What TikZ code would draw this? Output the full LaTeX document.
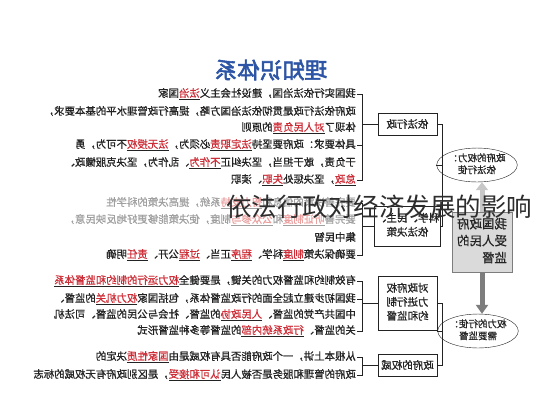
\documentclass[tikz,border=0pt]{standalone}
\usepackage{fontspec}
\setmainfont{Noto Sans CJK SC}
\newfontfamily\titlecjk[FakeBold=2.5]{Noto Sans CJK SC}
\newfontfamily\linecjk[FakeBold=0.8]{Noto Sans CJK SC}
\usepackage{graphicx}
\usetikzlibrary{calc}
\usetikzlibrary{positioning}
\usetikzlibrary{shapes.geometric}
\usetikzlibrary{arrows.meta}
\definecolor{titleblue}{RGB}{45,85,165}
\definecolor{hlred}{RGB}{205,45,55}
\definecolor{hlpale}{RGB}{235,160,160}
\definecolor{ink}{RGB}{35,35,35}
\definecolor{fade}{RGB}{160,160,160}
\definecolor{boxgray}{RGB}{218,218,218}
\definecolor{arrowlight}{RGB}{200,200,200}
\definecolor{arrowdark}{RGB}{125,125,125}
\definecolor{overlay}{RGB}{45,45,45}
\newcommand{\rl}[1]{\reflectbox{#1}}
\newcommand{\rlstack}[2][c]{\reflectbox{\begin{tabular}{@{}#1@{}}#2\end{tabular}}}
\newcommand{\hl}[1]{\underline{\textcolor{hlred}{#1}}}
\newcommand{\hp}[1]{\underline{\textcolor{hlpale}{#1}}}
\tikzset{
  txtline/.style={anchor=east, inner sep=0pt, text=ink, font=\linecjk\fontsize{10.4}{12}\selectfont},
  fadeline/.style={txtline, text=fade},
  topic/.style={draw=ink, minimum width=59pt, inner sep=1.5pt, text=ink, font=\linecjk\fontsize{10.5}{14}\selectfont},
  oval/.style={ellipse, draw=ink, minimum width=64pt, minimum height=32pt, inner sep=0pt, text=ink, font=\linecjk\fontsize{9.5}{12}\selectfont},
  brk/.style={draw=ink, line width=0.5pt},
}

\begin{document}
\begin{tikzpicture}[x=1pt,y=-1pt]

	%%% Frame
	\fill[white] (0,0) rectangle (533,400);
	\useasboundingbox (0,0) rectangle (533,400);

	%%% Heading
	\node[text=titleblue, font=\titlecjk\fontsize{22.5}{24}\selectfont] (heading) at (271,70) {\rl{理知识体系}};

	%%% Text lines, first group
	\node[txtline] (l1) at (356,94) {\rl{我国实行依法治国，建设社会主义\hl{法治}国家}};
	\node[txtline] (l2) at (356,111) {\rl{政府依法行政是贯彻依法治国方略，提高行政管理水平的基本要求，}};
	\node[txtline] (l3) at (356,128) {\rl{体现了\hl{对人民负责}的原则}};
	\node[txtline] (l4) at (356,145) {\rl{具体要求：政府要坚持\hl{法定职责}必须为，\hl{法无授权}不可为，勇}};
	\node[txtline] (l5) at (356,163) {\rl{于负责，敢于担当，坚决纠正\hl{不作为}、乱作为，坚决克服懒政、}};
	\node[txtline] (l6) at (356,180) {\rl{\hl{怠政}，坚决惩处\hl{失职}、渎职}};

	%%% Text lines, second group
	\node[fadeline] (l7) at (356,203) {\rl{要完善决策的信息和\hp{智力支持}系统，提高决策的科学性}};
	\node[fadeline] (l8) at (356,220) {\rl{要完善\hp{听证制度}和\hp{公众参与}制度，使决策能够更好地反映民意，}};
	\node[txtline] (l9) at (356,237) {\rl{集中民智}};
	\node[txtline] (l10) at (356,255) {\rl{要确保决策\hl{制度}科学、\hl{程序}正当、\hl{过程}公开、\hl{责任}明确}};

	%%% Text lines, third group
	\node[txtline] (l11) at (356,281) {\rl{有效制约和监督权力的关键，是要健全\hl{权力运行的制约和监督体系}}};
	\node[txtline] (l12) at (356,299) {\rl{我国初步建立起全面的行政监督体系，包括国家\hl{权力机关}的监督、}};
	\node[txtline] (l13) at (356,315) {\rl{中国共产党的监督、\hl{人民政协}的监督、社会与公民的监督、司法机}};
	\node[txtline] (l14) at (356,331) {\rl{关的监督、\hl{行政系统内部}的监督等多种监督形式}};

	%%% Text lines, fourth group
	\node[txtline] (l15) at (356,357) {\rl{从根本上讲，一个政府能否具有权威是由\hl{国家性质}决定的}};
	\node[txtline] (l16) at (356,375) {\rl{政府的管理和服务是否被人民\hl{认可和接受}，是区别政府有无权威的标志}};

	%%% Topic boxes
	\node[topic, minimum height=22pt] (b1) at (407.5,124) {\rl{依法行政}};
	\node[topic, minimum height=40pt] (b2) at (407.5,226) {\rlstack{科学、民主、\\依法决策}};
	\node[topic, minimum height=54pt] (b3) at (407.5,303) {\rlstack{对政府权\\力进行制\\约和监督}};
	\node[topic, minimum height=22pt] (b4) at (407.5,365) {\rl{政府的权威}};

	%%% Ovals and supervision box
	\node[oval] (e1) at (477,165) {\rlstack{政府的权力：\\依法行使}};
	\node[oval] (e2) at (478,331) {\rlstack{权力的行使：\\需要监督}};
	\node[draw=arrowdark, fill=boxgray, minimum width=60pt, minimum height=60pt, inner sep=0pt, text=ink,
	      font=\linecjk\fontsize{12.5}{17}\selectfont] (sup) at (482,242) {\rlstack[l]{我国政府\\受人民的\\监督}};

	%%% Arrows
	\draw[arrowlight, line width=5pt, -{Triangle[width=12pt,length=8pt]}] (sup.north) -- (sup.north |- e1.south);
	\draw[arrowdark, line width=5pt, -{Triangle[width=12pt,length=9pt]}] (sup.south) -- (sup.south |- e2.north);

	%%% Brackets to the text lines
	\coordinate (k1) at ([xshift=6pt]l1.east);
	\draw[brk] ([xshift=1pt]l1.east) -| ([xshift=6pt]l6.east) -- ([xshift=1pt]l6.east);
	\draw[brk] ([xshift=1pt]l4.east) -- ([xshift=6pt]l4.east);
	\draw[brk] (b1.west) -- (b1.west -| k1);
	\draw[brk] ([xshift=1pt]l7.east) -| ([xshift=6pt]l10.east) -- ([xshift=1pt]l10.east);
	\draw[brk] (b2.west) -- (b2.west -| k1);
	\draw[brk] ([xshift=1pt]l11.east) -| ([xshift=6pt]l14.east) -- ([xshift=1pt]l14.east);
	\draw[brk] ([xshift=1pt]l12.east) -- ([xshift=6pt]l12.east);
	\draw[brk] (b3.west) -- (b3.west -| k1);
	\draw[brk] ([xshift=1pt]l15.east) -| ([xshift=6pt]l16.east) -- ([xshift=1pt]l16.east);
	\draw[brk] (b4.west) -- (b4.west -| k1);

	%%% Brackets to the ovals
	\coordinate (k2) at ([xshift=5pt]b1.east);
	\draw[brk] (b1.east) -| (k2 |- b2.east) -- (b2.east);
	\draw[brk] (e1.west) -- (e1.west -| k2);
	\draw[brk] (b3.east) -| (k2 |- b4.east) -- (b4.east);
	\draw[brk] (e2.west) -- (e2.west -| k2);

	%%% Overlay caption
	\node[anchor=west, inner sep=0pt, text=overlay, font=\fontsize{25.5}{28}\selectfont] (caption) at (226,207) {依法行政对经济发展的影响};

\end{tikzpicture}
\end{document}
